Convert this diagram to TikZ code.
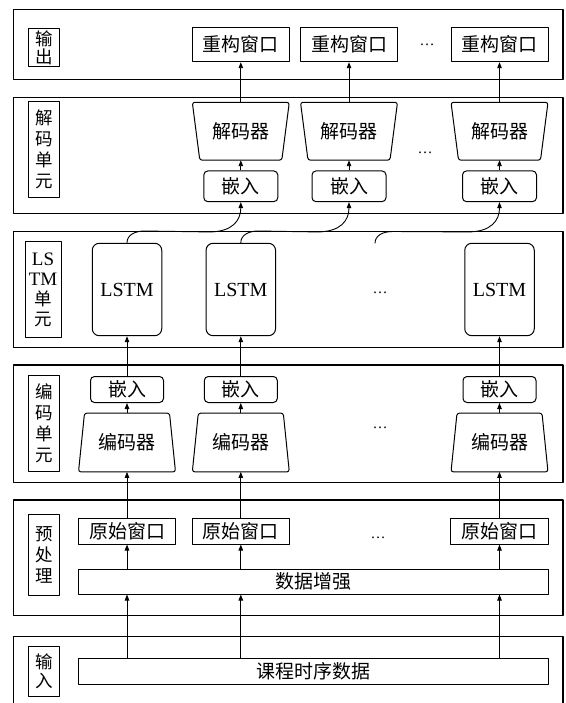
\documentclass[tikz,border=0pt]{standalone}
\usepackage{fontspec}
\setmainfont{Liberation Serif}
\newfontfamily\cjk{Noto Sans CJK SC}
\usetikzlibrary{arrows.meta,calc}
\begin{document}
\begin{tikzpicture}[x=1pt,y=-1pt,line join=round,
  layer/.style={draw,line width=1.1pt,inner sep=0pt,minimum width=549.7pt},
  lab/.style={draw,line width=1pt,inner sep=0pt,minimum width=31pt,align=center,font=\cjk\fontsize{17.5}{21}\selectfont},
  sq/.style={draw,line width=1pt,inner sep=0pt,font=\cjk\fontsize{19}{19}\selectfont},
  rbox/.style={sq,rounded corners=4pt},
  lstmbox/.style={draw,line width=1pt,inner sep=0pt,rounded corners=7pt,minimum width=69.5pt,minimum height=92.4pt,font=\rmfamily\fontsize{20}{20}\selectfont},
  trap/.style={inner sep=0pt,minimum width=97pt,font=\cjk\fontsize{19}{19}\selectfont},
  trapline/.style={draw,line width=1pt,rounded corners=2.5pt},
  dotsnode/.style={inner sep=0pt,font=\rmfamily\fontsize{15}{15}\selectfont},
  arr/.style={line width=0.9pt,-{Triangle[length=6pt,width=4.5pt]}},
  curvearr/.style={arr,rounded corners=0pt}
]
\useasboundingbox (0,0) rectangle (565,703);
\fill[white] (0,0) rectangle (565,703);
\clip (0,0) rectangle (565,703);

% layers
\node[layer,minimum height=70.2pt] (Lout) at (288.15,44.4) {};
\node[layer,minimum height=116pt] (Ldec) at (288.15,155.3) {};
\node[layer,minimum height=116.4pt] (Llstm) at (288.15,289.5) {};
\node[layer,minimum height=117.7pt] (Lenc) at (288.15,423.85) {};
\node[layer,minimum height=115.7pt] (Lpre) at (288.15,557.85) {};
\node[layer,minimum height=73.3pt] (Lin) at (288.15,673.35) {};

% layer labels
\node[lab,minimum height=38.4pt,font=\cjk\fontsize{17.5}{18}\selectfont] (tout) at (43.9,47.5) {输\\出};
\node[lab,minimum height=95.6pt] (tdec) at (43.9,149.5) {解\\码\\单\\元};
\node[lab,minimum height=95.6pt,minimum width=36pt,font=\cjk\fontsize{17.5}{20}\selectfont] (tlstm) at (43,289.5) {{\rmfamily\fontsize{19}{20}\selectfont LS}\\{\rmfamily\fontsize{19}{20}\selectfont TM}\\单\\元};
\node[lab,minimum height=96pt] (tenc) at (43.9,423) {编\\码\\单\\元};
\node[lab,minimum height=80.7pt] (tpre) at (43.9,554.7) {预\\处\\理};
\node[lab,minimum height=49.7pt,font=\cjk\fontsize{17.5}{18.5}\selectfont] (tin) at (43.9,671.5) {输\\入};

% output
\node[sq,minimum width=97pt,minimum height=34pt] (rec1) at (240.8,44.7) {重构窗口};
\node[sq,minimum width=97pt,minimum height=34pt] (rec2) at (349,44.7) {重构窗口};
\node[sq,minimum width=97pt,minimum height=34pt] (rec3) at (499.5,44.7) {重构窗口};

% decoder unit
\node[trap,minimum height=57.5pt] (dec1) at (240.8,131.25) {解码器};
\node[trap,minimum height=57.5pt] (dec2) at (349,131.25) {解码器};
\node[trap,minimum height=57.5pt] (dec3) at (499.5,131.25) {解码器};
\foreach \n in {dec1,dec2,dec3}
  \draw[trapline] ([xshift=-48.5pt]\n.north) -- ([xshift=48.5pt]\n.north) -- ([xshift=41pt]\n.south) -- ([xshift=-41pt]\n.south) -- cycle;
\node[rbox,minimum width=74pt,minimum height=30.7pt] (de1) at (240.8,186.3) {嵌入};
\node[rbox,minimum width=74pt,minimum height=30.7pt] (de2) at (349,186.3) {嵌入};
\node[rbox,minimum width=74pt,minimum height=30.7pt] (de3) at (499.5,186.3) {嵌入};

% LSTM unit
\node[lstmbox] (ls1) at (127,289.5) {LSTM};
\node[lstmbox] (ls2) at (240.8,289.5) {LSTM};
\node[lstmbox] (ls3) at (499.5,289.5) {LSTM};
\coordinate (c3) at (375,243.3);

% encoder unit
\node[rbox,minimum width=73pt,minimum height=26pt] (ee1) at (127,389.5) {嵌入};
\node[rbox,minimum width=73pt,minimum height=26pt] (ee2) at (240.8,389.5) {嵌入};
\node[rbox,minimum width=73pt,minimum height=26pt] (ee3) at (499.5,389.5) {嵌入};
\node[trap,minimum height=58.4pt] (en1) at (127,442.5) {编码器};
\node[trap,minimum height=58.4pt] (en2) at (240.8,442.5) {编码器};
\node[trap,minimum height=58.4pt] (en3) at (499.5,442.5) {编码器};
\foreach \n in {en1,en2,en3}
  \draw[trapline] ([xshift=-42.5pt]\n.north) -- ([xshift=42.5pt]\n.north) -- ([xshift=48.5pt]\n.south) -- ([xshift=-48.5pt]\n.south) -- cycle;

% preprocessing
\node[sq,minimum width=97.4pt,minimum height=25.7pt] (pw1) at (127,531.2) {原始窗口};
\node[sq,minimum width=97.4pt,minimum height=25.7pt] (pw2) at (240.8,531.2) {原始窗口};
\node[sq,minimum width=97.4pt,minimum height=25.7pt] (pw3) at (499.5,531.2) {原始窗口};
\node[sq,minimum width=469.9pt,minimum height=25pt] (aug) at (313.55,581.5) {数据增强};

% input
\node[sq,minimum width=469.9pt,minimum height=25.7pt] (ke) at (313.55,671.2) {课程时序数据};

% dots
\node[dotsnode] (d1) at (427,44.7) {…};
\node[dotsnode] (d2) at (425,153) {…};
\node[dotsnode] (d3) at (380,293) {…};
\node[dotsnode] (d4) at (380,428) {…};
\node[dotsnode] (d5) at (378,538) {…};

% arrows
\foreach \i in {1,2,3} {
  \draw[arr] (ke.north -| pw\i) -- (aug.south -| pw\i);
  \draw[arr] (aug.north -| pw\i) -- (pw\i.south);
  \draw[arr] (pw\i.north) -- (en\i.south);
  \draw[arr] (en\i.north) -- (ee\i.south);
  \draw[arr] (ee\i.north) -- (ls\i.south);
  \draw[arr] (de\i.north) -- (dec\i.south);
  \draw[arr] (dec\i.north) -- (rec\i.south);
}
\draw[curvearr] (ls1.north) .. controls +(0,-8) and +(-10,0) .. ($(ls1.north)+(18,-11.8)$) -- ($(de1.south)+(-32,29.8)$) .. controls +(24,0) and +(0,18) .. (de1.south);
\draw[curvearr] (ls2.north) .. controls +(0,-8) and +(-10,0) .. ($(ls2.north)+(18,-11.8)$) -- ($(de2.south)+(-32,29.8)$) .. controls +(24,0) and +(0,18) .. (de2.south);
\draw[curvearr] (c3) .. controls +(0,-8) and +(-10,0) .. ($(c3)+(18,-11.8)$) -- ($(de3.south)+(-32,29.8)$) .. controls +(24,0) and +(0,18) .. (de3.south);
\end{tikzpicture}
\end{document}
